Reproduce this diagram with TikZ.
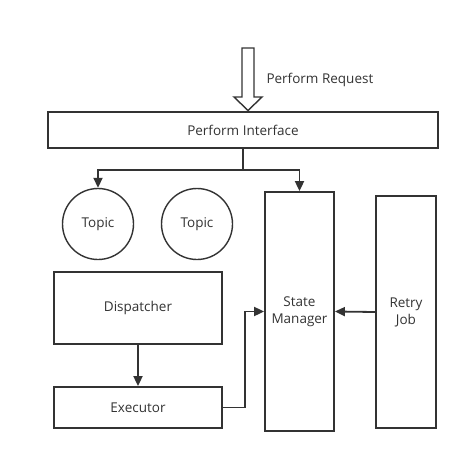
\documentclass[tikz,border=0pt]{standalone}
\usepackage{fontspec}
\setmainfont{Open Sans}
\usetikzlibrary{arrows.meta}

\definecolor{linegray}{HTML}{333333}

\tikzset{
  label font/.style={font=\fontsize{13.5}{17}\selectfont, text=linegray},
  box/.style={draw=linegray, line width=1.8pt, rectangle, inner sep=0pt,
    align=center, label font},
  topic/.style={draw=linegray, line width=1.4pt, circle, inner sep=0pt,
    minimum size=71pt, label font},
  flow/.style={draw=linegray, line width=1.8pt, -{Triangle[length=10pt,width=9pt]}}
}

\begin{document}
\begin{tikzpicture}[x=1pt, y=-1pt]

    % Canvas
    \useasboundingbox (0,0) rectangle (471,463);

    % Interface bar
    \node[box, minimum width=390pt, minimum height=36pt] (iface) at (243,130) {Perform Interface};

    % Incoming request (hollow arrow)
    \draw[linegray, line width=1.4pt, fill=white, line join=miter]
        (242,48) -- (254,48) -- (254,97) -- (262,97) -- (248,110.5)
        -- (234,97) -- (242,97) -- cycle;
    \node[anchor=west, label font] (req) at (263,80) {Perform Request};

    % Topics
    \node[topic] (topicA) at (98,224) {Topic};
    \node[topic] (topicB) at (197,224) {Topic};

    % Dispatcher and executor
    \node[box, minimum width=168pt, minimum height=72pt] (disp) at (138,308) {Dispatcher};
    \node[box, minimum width=168pt, minimum height=41pt] (exec) at (138,407.5) {Executor};

    % State manager and retry job
    \node[box, minimum width=69pt, minimum height=239pt] (state) at (299.5,311.5) {State\\Manager};
    \node[box, minimum width=60pt, minimum height=232pt] (retry) at (406,312) {Retry\\Job};

    % Connectors
    \coordinate (split) at (243,170);
    \draw[flow] (iface.south) -- (split) -| (topicA.north);
    \draw[flow] (split) -| (state.north);
    \draw[flow] (disp) -- (exec);
    \draw[flow] (exec.east) -- ++(22,0) |- (state.west);
    \draw[flow] (retry.west) -- (state.east);

\end{tikzpicture}
\end{document}
